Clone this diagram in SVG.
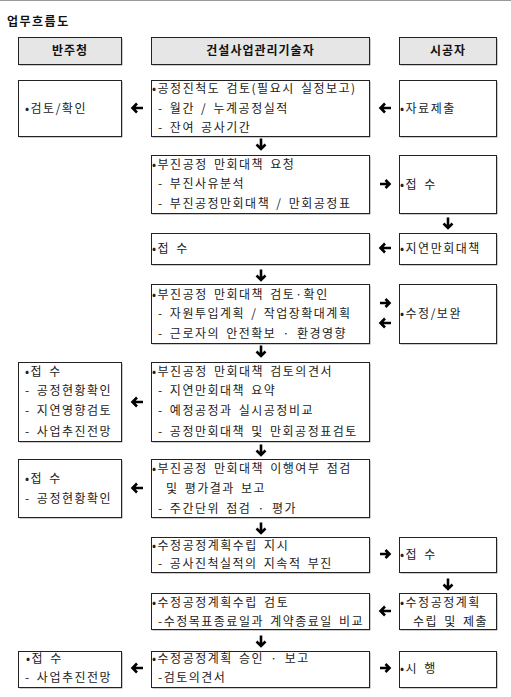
<svg xmlns="http://www.w3.org/2000/svg" width="511" height="697" viewBox="0 0 511 697">
<style>
text{font-family:"Noto Sans CJK KR","Noto Sans",sans-serif;font-size:12px;fill:#222;letter-spacing:1.5px;word-spacing:2px}
.b{font-weight:bold;fill:#111}
.h{font-weight:bold;text-anchor:middle;letter-spacing:1px;word-spacing:0;fill:#111}
.box{fill:#fff;stroke:#222;stroke-width:1}
.hd{fill:#e6e6e6;stroke:#222;stroke-width:1}
.sh{fill:#999}
.ar{fill:none;stroke:#000;stroke-width:2.6;stroke-linejoin:miter}
</style>
<defs>
<path id="aL" class="ar" d="M12,0 H1.5 M6,-4.5 L1.5,0 L6,4.5"/>
<path id="aR" class="ar" d="M0,0 H9.5 M5.5,-4 L9.5,0 L5.5,4"/>
<path id="aD" class="ar" d="M0,0 V10.5 M-4.5,6 L0,10.5 L4.5,6"/>
</defs>
<rect width="511" height="697" fill="#fff"/>
<line x1="0" y1="0.5" x2="511" y2="0.5" stroke="#999" stroke-width="1"/>
<text class="b" x="7" y="26">업무흐름도</text>

<g id="hdr-owner"><rect class="sh" x="19.5" y="38.5" width="103" height="27"/><rect class="hd" x="18.5" y="37.5" width="103" height="27"/><text class="h" x="70" y="55">반주청</text></g>
<g id="hdr-cm"><rect class="sh" x="152.5" y="38.5" width="218" height="27"/><rect class="hd" x="151.5" y="37.5" width="218" height="27"/><text class="h" x="260.5" y="55">건설사업관리기술자</text></g>
<g id="hdr-contractor"><rect class="sh" x="400.5" y="38.5" width="97" height="27"/><rect class="hd" x="399.5" y="37.5" width="97" height="27"/><text class="h" x="448" y="55">시공자</text></g>

<!-- Row 1 -->
<g id="n1-owner"><rect class="sh" x="19.5" y="81.5" width="103" height="56"/><rect class="box" x="18.5" y="80.5" width="103" height="56"/><text x="25" y="112.5">•검토/확인</text></g>
<g id="n1-cm"><rect class="sh" x="152.5" y="81.5" width="218" height="56"/><rect class="box" x="151.5" y="80.5" width="218" height="56"/>
<text x="152" y="92.5">•공정진척도 검토(필요시 실정보고)</text>
<text x="158" y="112.5">- 월간 / 누계공정실적</text>
<text x="158" y="131.5">- 잔여 공사기간</text></g>
<g id="n1-con"><rect class="sh" x="400.5" y="81.5" width="97" height="56"/><rect class="box" x="399.5" y="80.5" width="97" height="56"/><text x="400" y="112.5">•자료제출</text></g>

<!-- Row 2 -->
<g id="n2-cm"><rect class="sh" x="152.5" y="156.5" width="218" height="58"/><rect class="box" x="151.5" y="155.5" width="218" height="58"/>
<text x="152" y="168.5">•부진공정 만회대책 요청</text>
<text x="158" y="187.5">- 부진사유분석</text>
<text x="158" y="207.5">- 부진공정만회대책 / 만회공정표</text></g>
<g id="n2-con"><rect class="sh" x="400.5" y="156.5" width="97" height="58"/><rect class="box" x="399.5" y="155.5" width="97" height="58"/><text x="400" y="188.5">•접 수</text></g>

<!-- Row 3 -->
<g id="n3-cm"><rect class="sh" x="152.5" y="234.5" width="218" height="31"/><rect class="box" x="151.5" y="233.5" width="218" height="31"/><text x="152" y="252.5">•접 수</text></g>
<g id="n3-con"><rect class="sh" x="400.5" y="234.5" width="97" height="31"/><rect class="box" x="399.5" y="233.5" width="97" height="31"/><text x="400" y="252.5">•지연만회대책</text></g>

<!-- Row 4 -->
<g id="n4-cm"><rect class="sh" x="152.5" y="285.5" width="218" height="59"/><rect class="box" x="151.5" y="284.5" width="218" height="59"/>
<text x="152" y="298.5">•부진공정 만회대책 검토·확인</text>
<text x="158" y="317.5">- 자원투입계획 / 작업장확대계획</text>
<text x="158" y="337.5">- 근로자의 안전확보 · 환경영향</text></g>
<g id="n4-con"><rect class="sh" x="400.5" y="285.5" width="97" height="59"/><rect class="box" x="399.5" y="284.5" width="97" height="59"/><text x="400" y="317.5">•수정/보완</text></g>

<!-- Row 5 -->
<g id="n5-owner"><rect class="sh" x="19.5" y="363.5" width="103" height="79"/><rect class="box" x="18.5" y="362.5" width="103" height="79"/>
<text x="25" y="375.5">•접 수</text>
<text x="25" y="394.5">- 공정현황확인</text>
<text x="25" y="414.5">- 지연영향검토</text>
<text x="25" y="435.5">- 사업추진전망</text></g>
<g id="n5-cm"><rect class="sh" x="152.5" y="363.5" width="218" height="79"/><rect class="box" x="151.5" y="362.5" width="218" height="79"/>
<text x="152" y="375.5">•부진공정 만회대책 검토의견서</text>
<text x="158" y="394.5">- 지연만회대책 요약</text>
<text x="158" y="414.5">- 예정공정과 실시공정비교</text>
<text x="158" y="435.5">- 공정만회대책 및 만회공정표검토</text></g>

<!-- Row 6 -->
<g id="n6-owner"><rect class="sh" x="19.5" y="460.5" width="103" height="58"/><rect class="box" x="18.5" y="459.5" width="103" height="58"/>
<text x="25" y="482.5">•접 수</text>
<text x="25" y="502.5">- 공정현황확인</text></g>
<g id="n6-cm"><rect class="sh" x="152.5" y="460.5" width="218" height="58"/><rect class="box" x="151.5" y="459.5" width="218" height="58"/>
<text x="152" y="472.5">•부진공정 만회대책 이행여부 점검</text>
<text x="166" y="492.5">및 평가결과 보고</text>
<text x="158" y="512.5">- 주간단위 점검 · 평가</text></g>

<!-- Row 7 -->
<g id="n7-cm"><rect class="sh" x="152.5" y="538.5" width="218" height="35"/><rect class="box" x="151.5" y="537.5" width="218" height="35"/>
<text x="152" y="549.5">•수정공정계획수립 지시</text>
<text x="158" y="567.5">- 공사진척실적의 지속적 부진</text></g>
<g id="n7-con"><rect class="sh" x="400.5" y="538.5" width="97" height="35"/><rect class="box" x="399.5" y="537.5" width="97" height="35"/><text x="400" y="558.5">•접 수</text></g>

<!-- Row 8 -->
<g id="n8-cm"><rect class="sh" x="152.5" y="594.5" width="218" height="36"/><rect class="box" x="151.5" y="593.5" width="218" height="36"/>
<text x="152" y="606.5">•수정공정계획수립 검토</text>
<text x="158" y="625.5">-수정목표종료일과 계약종료일 비교</text></g>
<g id="n8-con"><rect class="sh" x="400.5" y="594.5" width="97" height="36"/><rect class="box" x="399.5" y="593.5" width="97" height="36"/>
<text x="400" y="606.5">•수정공정계획</text>
<text x="413" y="625.5">수립 및 제출</text></g>

<!-- Row 9 -->
<g id="n9-owner"><rect class="sh" x="19.5" y="652.5" width="103" height="36"/><rect class="box" x="18.5" y="651.5" width="103" height="36"/>
<text x="26" y="662.5">•접 수</text>
<text x="25" y="681.5">- 사업추진전망</text></g>
<g id="n9-cm"><rect class="sh" x="152.5" y="652.5" width="218" height="36"/><rect class="box" x="151.5" y="651.5" width="218" height="36"/>
<text x="152" y="662.5">•수정공정계획 승인 · 보고</text>
<text x="158" y="681.5">-검토의견서</text></g>
<g id="n9-con"><rect class="sh" x="400.5" y="652.5" width="97" height="36"/><rect class="box" x="399.5" y="651.5" width="97" height="36"/><text x="400" y="672.5">•시 행</text></g>

<g id="connectors">
<use href="#aL" x="131" y="108"/>
<use href="#aL" x="379" y="108"/>
<use href="#aD" x="261" y="138.5"/>
<use href="#aR" x="380" y="184"/>
<use href="#aD" x="448" y="217.5"/>
<use href="#aL" x="379" y="248"/>
<use href="#aD" x="261" y="269.5"/>
<use href="#aR" x="380" y="303"/>
<use href="#aL" x="379" y="323"/>
<use href="#aD" x="261" y="345.5"/>
<use href="#aL" x="131" y="402"/>
<use href="#aD" x="261" y="444.5"/>
<use href="#aL" x="131" y="488"/>
<use href="#aD" x="261" y="522.5"/>
<use href="#aR" x="380" y="554"/>
<use href="#aD" x="448" y="578.5"/>
<use href="#aL" x="379" y="611"/>
<use href="#aD" x="261" y="635.5"/>
<use href="#aL" x="131" y="668"/>
<use href="#aR" x="380" y="668"/>
</g>
</svg>
